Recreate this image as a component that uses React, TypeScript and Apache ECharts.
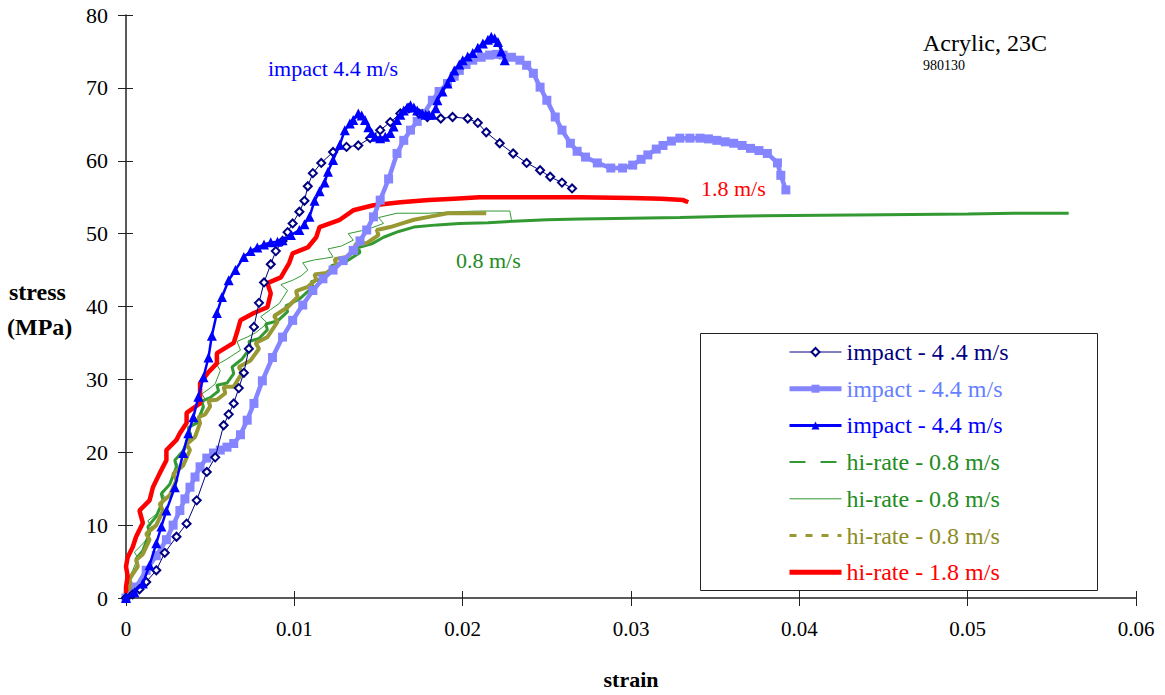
import React, { useEffect, useRef } from "react";
import * as echarts from "echarts";

// strain (mm/mm) vs stress (MPa) pairs for each test
const impactA: number[][] = [
  [0, 0], [0.0004, 0.5], [0.0008, 1.2], [0.0012, 2.2], [0.0018, 3.8], [0.0023, 6.2], [0.003, 8.4],
  [0.0036, 10.2], [0.0042, 13.4], [0.0048, 17.3], [0.0053, 19.3], [0.0058, 23.7], [0.0061, 25.2],
  [0.0064, 26.7], [0.0067, 28.8], [0.007, 30.9], [0.0073, 34.2], [0.0076, 37.2], [0.0079, 40.5],
  [0.0082, 43.3], [0.0086, 45.8], [0.0089, 47.6], [0.0093, 49], [0.0096, 50.2], [0.0099, 51.4],
  [0.0103, 53], [0.0106, 54.5], [0.0108, 56.5], [0.0111, 58.3], [0.0116, 59.7], [0.0123, 61.2],
  [0.0131, 61.9], [0.0138, 62.1], [0.0145, 63.1], [0.0151, 64.2], [0.0157, 65.3], [0.0163, 66.5],
  [0.0168, 67.2], [0.0174, 66.5], [0.0179, 66], [0.0187, 65.8], [0.0194, 66], [0.0203, 65.8],
  [0.0209, 65.2], [0.0214, 63.9], [0.0222, 62.4], [0.023, 61], [0.0238, 59.7], [0.0246, 58.7],
  [0.0252, 57.8], [0.0259, 57], [0.0265, 56.2],
];

const impactB: number[][] = [
  [0, 0], [0.0006, 1.5], [0.0012, 3.8], [0.0018, 5.8], [0.0024, 8], [0.0028, 10], [0.0032, 12],
  [0.0035, 13.6], [0.0038, 15.2], [0.0041, 16.6], [0.0044, 18], [0.0048, 19.2], [0.0052, 19.9],
  [0.0056, 20.3], [0.006, 20.7], [0.0064, 21.2], [0.0068, 22.4], [0.0072, 24.4], [0.0076, 26.7],
  [0.0081, 29.8], [0.0087, 33], [0.0093, 35.8], [0.0099, 38.1], [0.0105, 40.2], [0.0111, 42.2],
  [0.0117, 43.8], [0.0123, 45], [0.0129, 46.3], [0.0135, 47.7], [0.0139, 49], [0.0143, 50.5],
  [0.0147, 52.3], [0.0151, 54.6], [0.0156, 57.5], [0.0161, 61], [0.0165, 62.8], [0.0169, 64.2],
  [0.0173, 65.4], [0.0177, 66.5], [0.0182, 68.3], [0.0186, 69.5], [0.0191, 70.6], [0.0195, 71.6],
  [0.0198, 72.4], [0.0202, 73.2], [0.0206, 73.8], [0.0211, 74.2], [0.0216, 74.5], [0.022, 74.6],
  [0.0224, 74.5], [0.0229, 74.2], [0.0234, 73.8], [0.0238, 73.1], [0.0242, 72], [0.0246, 70.1],
  [0.025, 68.3], [0.0255, 66], [0.0259, 64.2], [0.0264, 62.4], [0.0268, 61.3], [0.0273, 60.5],
  [0.028, 59.7], [0.0288, 59], [0.0295, 59], [0.0301, 59.4], [0.0306, 60.2], [0.031, 60.8],
  [0.0315, 61.6], [0.0319, 62.1], [0.0324, 62.7], [0.0329, 63.1], [0.0335, 63.1], [0.0341, 63.1],
  [0.0346, 63], [0.0351, 62.8], [0.0356, 62.6], [0.0361, 62.4], [0.0366, 62.1], [0.0371, 61.7],
  [0.0376, 61.4], [0.0381, 61], [0.0387, 59.7], [0.0389, 58], [0.0392, 56],
];

const impactC: number[][] = [
  [0, 0], [0.0005, 0.8], [0.001, 2], [0.0014, 4.5], [0.0018, 7.5], [0.0021, 9.8], [0.0024, 12],
  [0.0029, 15.2], [0.0034, 19.9], [0.0037, 22.6], [0.004, 24.8], [0.0043, 27.6], [0.0046, 30.3],
  [0.0049, 33], [0.0051, 36], [0.0054, 39.1], [0.0057, 41.3], [0.0061, 43.6], [0.0065, 45],
  [0.007, 46.8], [0.0074, 47.6], [0.0078, 48.1], [0.0082, 48.5], [0.0086, 48.8], [0.009, 48.9],
  [0.0093, 49.1], [0.0098, 49.8], [0.0103, 50.5], [0.0106, 51.3], [0.0109, 52.3], [0.0112, 54.5],
  [0.0115, 55.8], [0.0118, 57], [0.012, 58.5], [0.0123, 60.1], [0.0127, 62.2], [0.013, 64.2],
  [0.0133, 65.1], [0.0135, 65.6], [0.0138, 66.5], [0.014, 66.2], [0.0142, 65.6], [0.0144, 64.6],
  [0.0146, 63.8], [0.0148, 63.3], [0.0151, 63.1], [0.0154, 63.3], [0.0157, 63.8], [0.0159, 64.7],
  [0.0161, 65.6], [0.0163, 66.3], [0.0165, 66.9], [0.0167, 67.3], [0.0169, 67.6], [0.0171, 67.3],
  [0.0173, 66.9], [0.0176, 66.5], [0.0178, 66.3], [0.018, 66.3], [0.0182, 66.3], [0.0184, 67.2],
  [0.0185, 68.3], [0.0188, 69.5], [0.0191, 70.6], [0.0193, 71.5], [0.0195, 72.4], [0.0198, 73.2],
  [0.02, 73.8], [0.0203, 74.3], [0.0206, 74.8], [0.0209, 75.5], [0.0212, 76.1], [0.0215, 76.6],
  [0.0217, 77], [0.0219, 76.8], [0.0221, 76.3], [0.0223, 75], [0.0225, 73.8],
];

const hiRateA: number[][] = [
  [0, 0], [0.0003, 1.5], [0.0002, 2.4], [0.0007, 4.5], [0.0006, 5.4], [0.001, 6.5], [0.0014, 8.9],
  [0.0013, 9.8], [0.0018, 11.2], [0.0022, 13.4], [0.0021, 14.3], [0.0026, 15.6], [0.003, 18],
  [0.0029, 18.9], [0.0034, 20.2], [0.0038, 22.6], [0.0037, 23.4], [0.0042, 24], [0.0046, 26.2],
  [0.0045, 27], [0.005, 27.5], [0.0055, 28.4], [0.0054, 29.2], [0.006, 29.5], [0.0064, 30.8],
  [0.0063, 31.7], [0.0069, 32.8], [0.0074, 34.4], [0.0073, 35.2], [0.0079, 35.6], [0.0084, 36.8],
  [0.0083, 37.6], [0.009, 38], [0.0096, 39.3], [0.0095, 40.1], [0.0103, 41], [0.0111, 42.7],
  [0.011, 43.4], [0.0117, 43.8], [0.0123, 44.9], [0.0122, 45.6], [0.0131, 46.2], [0.0139, 47.4],
  [0.0138, 48.1], [0.0146, 48.6], [0.0153, 49.5], [0.0162, 50.3], [0.0171, 50.9], [0.0185, 51.2],
  [0.0198, 51.4], [0.0215, 51.5], [0.023, 51.7], [0.025, 51.9], [0.027, 52], [0.03, 52.1],
  [0.0329, 52.2], [0.036, 52.4], [0.0396, 52.5], [0.045, 52.6], [0.05, 52.7], [0.0527, 52.8],
  [0.056, 52.8],
];

const hiRateB: number[][] = [
  [0, 0], [0.0002, 1.8], [0.0001, 2.5], [0.0004, 3.8], [0.0007, 5.5], [0.0005, 6.3], [0.0009, 7.2],
  [0.0012, 8], [0.0015, 9.8], [0.0013, 10.6], [0.0018, 11.5], [0.002, 12], [0.0023, 13.8],
  [0.0021, 14.6], [0.0026, 15.5], [0.0028, 16.6], [0.0031, 18.2], [0.0029, 19], [0.0034, 19.8],
  [0.0036, 20.7], [0.0039, 22.5], [0.0037, 23.3], [0.0042, 24.3], [0.0044, 25.4], [0.0047, 27.3],
  [0.0045, 28], [0.005, 28.8], [0.0053, 29.4], [0.0056, 31.2], [0.0054, 32], [0.006, 32.8],
  [0.0064, 33.4], [0.0068, 34], [0.0066, 35.2], [0.0072, 35.8], [0.0077, 36.4], [0.0084, 37.7],
  [0.008, 38.6], [0.0086, 39.6], [0.0091, 40.4], [0.0096, 42.2], [0.0092, 43], [0.0099, 43.6],
  [0.0104, 44.2], [0.0108, 45], [0.0105, 46], [0.0112, 46.4], [0.0118, 46.6], [0.0123, 46.8],
  [0.012, 47.9], [0.0128, 48.3], [0.0135, 49.1], [0.0132, 50], [0.014, 50.4], [0.0146, 50.8],
  [0.0153, 51.4], [0.015, 52.2], [0.0161, 52.8], [0.017, 52.8], [0.018, 52.8], [0.0195, 53],
  [0.021, 53.1], [0.0228, 53.1], [0.0229, 51.9],
];

const hiRateC: number[][] = [
  [0, 0], [0.0003, 1.8], [0.0002, 2.6], [0.0007, 4.3], [0.0006, 5.2], [0.001, 6], [0.0014, 8],
  [0.0012, 8.8], [0.0018, 10], [0.0022, 12], [0.002, 12.9], [0.0026, 14.1], [0.003, 16.2],
  [0.0028, 17], [0.0034, 18.2], [0.0038, 20.3], [0.0036, 21.1], [0.0041, 22.1], [0.0044, 24],
  [0.0043, 24.8], [0.0047, 25.2], [0.005, 26.3], [0.0049, 27.1], [0.0054, 27.2], [0.0059, 28.1],
  [0.0058, 29], [0.0064, 29], [0.0069, 30.9], [0.0067, 31.7], [0.0074, 32.6], [0.0079, 34.2],
  [0.0077, 35], [0.0084, 35.8], [0.009, 37.9], [0.0088, 38.7], [0.0096, 39.9], [0.0102, 41.3],
  [0.0101, 42.1], [0.0108, 42.7], [0.0113, 43.7], [0.0112, 44.4], [0.0119, 44.6], [0.0125, 45.7],
  [0.0124, 46.5], [0.0131, 46.8], [0.0137, 47.8], [0.0136, 48.5], [0.0143, 48.7], [0.015, 49.8],
  [0.0149, 50.5], [0.0157, 50.9], [0.0164, 51.4], [0.0171, 51.9], [0.018, 52.3], [0.0191, 52.8],
  [0.0203, 52.8], [0.0214, 52.8],
];

const hiRateFast: number[][] = [
  [0, 0], [0, 1.5], [0.0001, 3], [0, 4.3], [0.0001, 5.6], [0.0004, 7], [0.0006, 8.4], [0.001, 10.3],
  [0.0008, 12], [0.0014, 13.4], [0.0016, 15.2], [0.002, 17.1], [0.0024, 18.9], [0.0024, 20.3],
  [0.003, 21.7], [0.0032, 22.6], [0.0036, 24], [0.0036, 25.4], [0.0044, 26.7], [0.0044, 28.1],
  [0.0044, 29.5], [0.0049, 31], [0.0054, 32.2], [0.0054, 33.6], [0.0064, 35], [0.0066, 36.5],
  [0.0068, 38.1], [0.0076, 39.1], [0.0084, 39.9], [0.0086, 41.8], [0.0084, 43.2], [0.0092, 44],
  [0.0097, 46], [0.0099, 47.3], [0.0108, 48.1], [0.0113, 49.5], [0.0115, 50.9], [0.0127, 51.9],
  [0.0135, 53.2], [0.0147, 53.9], [0.0163, 54.3], [0.018, 54.6], [0.0195, 54.8], [0.021, 55],
  [0.024, 55], [0.027, 55], [0.03, 54.9], [0.0318, 54.8], [0.0331, 54.6], [0.0334, 54.3],
];

const legendLabels: Record<string, string> = {
  s1: "impact - 4 .4 m/s",
  s2: "impact - 4.4 m/s",
  s3: "impact - 4.4 m/s",
  s4: "hi-rate - 0.8 m/s",
  s5: "hi-rate - 0.8 m/s",
  s6: "hi-rate - 0.8 m/s",
  s7: "hi-rate - 1.8 m/s",
};

const xTicks = { min: 0, max: 0.06, interval: 0.01 };
const yTicks = { min: 0, max: 80, interval: 10 };

const SERIF = "Liberation Serif";

const label = (text: string, x: number, y: number, size: number, fill: string, bold = false) => ({
  type: "text",
  x,
  y,
  style: {
    text,
    fill,
    fontFamily: SERIF,
    fontSize: size,
    fontWeight: bold ? "bold" : "normal",
    textVerticalAlign: "middle",
  },
});

export default function App() {
  const ref = useRef<HTMLDivElement>(null);

  useEffect(() => {
    if (!ref.current) return;
    const chart = echarts.init(ref.current, undefined, { renderer: "svg" });

    const axisLineStyle = { color: "#222", width: 1.5 };
    const hiddenSymbol = { opacity: 0 };

    chart.setOption({
      animation: false,
      backgroundColor: "#fff",
      textStyle: { fontFamily: SERIF },
      grid: { left: 126, right: 29, top: 15, bottom: 97, containLabel: false },
      xAxis: [
        {
          type: "value",
          ...xTicks,
          position: "bottom",
          axisLine: { show: true, lineStyle: axisLineStyle },
          axisTick: { show: true, length: 8, lineStyle: { color: "#222", width: 1 } },
          splitLine: { show: false },
          axisLabel: {
            margin: 20,
            fontFamily: SERIF,
            fontSize: 21,
            color: "#000",
            formatter: (v: number) => String(+v.toFixed(2)),
          },
          name: "strain",
          nameLocation: "middle",
          nameGap: 70,
          nameTextStyle: { fontFamily: SERIF, fontWeight: "bold", fontSize: 22, color: "#000" },
        },
        {
          type: "value",
          ...xTicks,
          position: "bottom",
          axisLine: { show: false },
          axisTick: { show: true, inside: true, length: 7, lineStyle: { color: "#222", width: 1 } },
          splitLine: { show: false },
          axisLabel: { show: false },
        },
      ],
      yAxis: [
        {
          type: "value",
          ...yTicks,
          position: "left",
          axisLine: { show: true, lineStyle: axisLineStyle },
          axisTick: { show: true, length: 8, lineStyle: { color: "#222", width: 1 } },
          splitLine: { show: false },
          axisLabel: { margin: 18, fontFamily: SERIF, fontSize: 22, color: "#000" },
        },
        {
          type: "value",
          ...yTicks,
          position: "left",
          axisLine: { show: false },
          axisTick: { show: true, inside: true, length: 7, lineStyle: { color: "#222", width: 1 } },
          splitLine: { show: false },
          axisLabel: { show: false },
        },
      ],
      legend: {
        orient: "vertical",
        left: 787,
        top: 339,
        padding: 0,
        itemWidth: 52,
        itemHeight: 10,
        itemGap: 10.7,
        selectedMode: false,
        formatter: (name: string) => legendLabels[name] ?? name,
        textStyle: { fontFamily: SERIF, fontSize: 24, lineHeight: 26 },
        data: [
          { name: "s1", textStyle: { color: "#000080" }, lineStyle: { width: 1 } },
          { name: "s2", textStyle: { color: "#6680FF" }, lineStyle: { width: 5 } },
          { name: "s3", textStyle: { color: "#0000FF" }, lineStyle: { width: 3 } },
          {
            name: "s4",
            textStyle: { color: "#228B22" },
            lineStyle: { type: [16, 15], width: 2 },
            itemStyle: hiddenSymbol,
          },
          { name: "s5", textStyle: { color: "#228B22" }, lineStyle: { width: 1 }, itemStyle: hiddenSymbol },
          {
            name: "s6",
            textStyle: { color: "#8B8B22" },
            lineStyle: { type: [7, 9], width: 3 },
            itemStyle: hiddenSymbol,
          },
          { name: "s7", textStyle: { color: "#FF0000" }, lineStyle: { width: 5 }, itemStyle: hiddenSymbol },
        ],
      },
      graphic: [
        {
          type: "rect",
          z: 1,
          shape: { x: 700.5, y: 333.5, width: 397, height: 257 },
          style: { fill: "#fff", stroke: "#222", lineWidth: 1 },
        },
        label("stress", 9, 292, 24, "#000", true),
        label("(MPa)", 7, 327, 24, "#000", true),
        label("impact 4.4 m/s", 268, 68, 22, "#0000FF"),
        label("1.8 m/s", 701, 188, 22, "#FF0000"),
        label("0.8 m/s", 456, 260, 22, "#228B22"),
        label("Acrylic, 23C", 923, 43, 24, "#000"),
        label("980130", 923, 65, 14, "#000"),
      ],
      series: [
        {
          name: "s1",
          type: "line",
          data: impactA,
          z: 6,
          symbol: "emptyDiamond",
          symbolSize: 8,
          showAllSymbol: true,
          itemStyle: { color: "#000080", borderWidth: 1.2 },
          lineStyle: { color: "#000080", width: 1 },
        },
        {
          name: "s2",
          type: "line",
          data: impactB,
          z: 5,
          symbol: "rect",
          symbolSize: 9,
          showAllSymbol: true,
          itemStyle: { color: "#8585FF" },
          lineStyle: { color: "#8585FF", width: 4.5 },
        },
        {
          name: "s3",
          type: "line",
          data: impactC,
          z: 7,
          symbol: "triangle",
          symbolSize: 10,
          showAllSymbol: true,
          itemStyle: { color: "#0000FF" },
          lineStyle: { color: "#0000FF", width: 2.5 },
        },
        {
          name: "s4",
          type: "line",
          data: hiRateA,
          z: 2,
          symbol: "none",
          itemStyle: { color: "#339933" },
          lineStyle: { color: "#339933", width: 3 },
        },
        {
          name: "s5",
          type: "line",
          data: hiRateB,
          z: 3,
          symbol: "none",
          itemStyle: { color: "#339933" },
          lineStyle: { color: "#339933", width: 1 },
        },
        {
          name: "s6",
          type: "line",
          data: hiRateC,
          z: 3,
          symbol: "none",
          itemStyle: { color: "#999933" },
          lineStyle: { color: "#999933", width: 4 },
        },
        {
          name: "s7",
          type: "line",
          data: hiRateFast,
          z: 4,
          symbol: "none",
          itemStyle: { color: "#FF0000" },
          lineStyle: { color: "#FF0000", width: 4.5 },
        },
      ],
    });

    return () => chart.dispose();
  }, []);

  return (
    <div
      ref={ref}
      style={{ position: "absolute", left: 0, top: 0, width: 1165, height: 695 }}
    />
  );
}
